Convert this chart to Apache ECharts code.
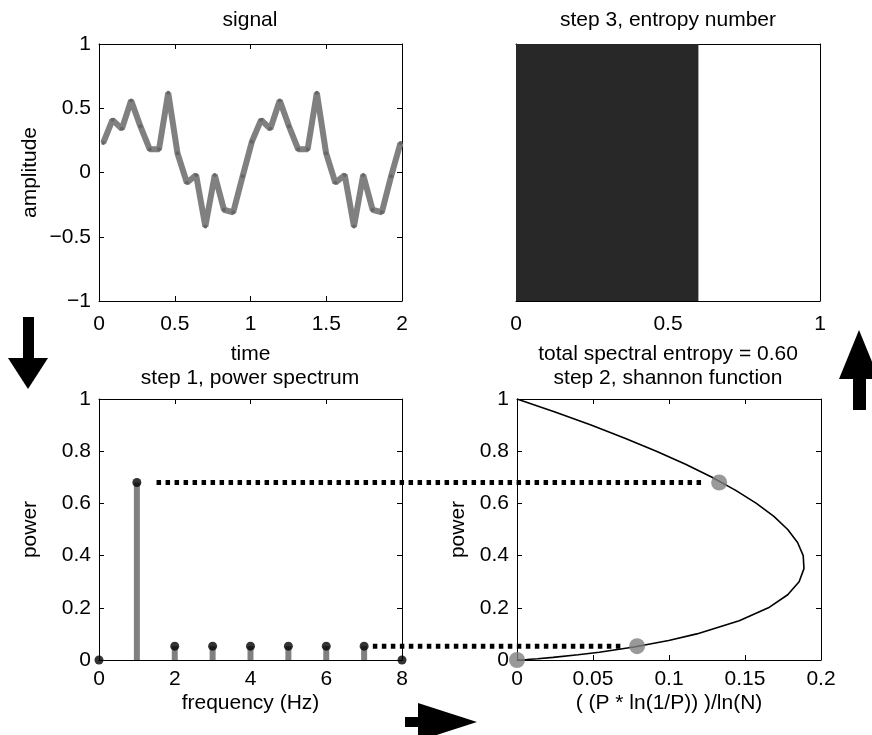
<!DOCTYPE html>
<html>
<head>
<meta charset="utf-8">
<script src="https://cdn.jsdelivr.net/npm/echarts@6/dist/echarts.min.js"></script>
<style>
  html, body { margin: 0; background: #fff; }
  #chart { width: 872px; height: 735px; }
</style>
</head>
<body>
<div id="chart"></div>
<script>
// signal (two periods)
const sigTime = [0.028, 0.089, 0.151, 0.212, 0.273, 0.335, 0.396, 0.457, 0.518, 0.58, 0.641, 0.702, 0.764, 0.825, 0.886, 0.948,
  1.009, 1.07, 1.131, 1.193, 1.254, 1.315, 1.377, 1.438, 1.499, 1.56, 1.622, 1.683, 1.744, 1.806, 1.867, 1.928, 1.99];
const sigAmp = [0.23, 0.41, 0.34, 0.56, 0.36, 0.18, 0.18, 0.62, 0.15, -0.08, -0.02, -0.42, -0.02, -0.29, -0.31, -0.03,
  0.24, 0.41, 0.34, 0.56, 0.36, 0.18, 0.18, 0.62, 0.15, -0.08, -0.02, -0.42, -0.02, -0.29, -0.31, -0.03, 0.23];

// step 1: power spectrum
const freqHz = [0, 1, 2, 3, 4, 5, 6, 7, 8];
const power = [0, 0.68, 0.053, 0.053, 0.053, 0.053, 0.053, 0.053, 0];

// step 2: shannon function curve
const shannonP = [0, 0.001, 0.002, 0.005, 0.01, 0.02, 0.03, 0.05, 0.075, 0.1, 0.15, 0.2, 0.25, 0.3, 0.35,
  0.4, 0.45, 0.5, 0.55, 0.6, 0.65, 0.7, 0.75, 0.8, 0.85, 0.9, 0.95, 1];
const shannonX = [0, 0.0035, 0.0064, 0.0136, 0.0237, 0.0402, 0.0541, 0.077, 0.0998, 0.1183, 0.1462, 0.1654, 0.1781, 0.1856, 0.1888,
  0.1883, 0.1846, 0.1781, 0.169, 0.1575, 0.1439, 0.1283, 0.1109, 0.0917, 0.071, 0.0487, 0.025, 0];
const pickedP = [0, 0.053, 0.68];
const pickedX = [0, 0.079, 0.133];

// step 3: entropy number
const entropy = [0.60];
const entropyCat = ['H'];

// dotted links: from spectrum (freq, power) to shannon (x, power)
const linkFrom = [[1.52, 0.68], [7.23, 0.053]];
const linkTo = [[0.123, 0.68], [0.07, 0.053]];

const font = 'Liberation Sans, Arial, sans-serif';
const txt = { color: '#000', fontSize: 21, fontFamily: font };
const fmt = v => String(v).replace('-', '\u2212');

function xPair(grid, min, max, step, name, gap, margin) {
  return [
    {
      type: 'value', gridIndex: grid, position: 'bottom', min: min, max: max, interval: step,
      axisLine: { show: true, onZero: false, lineStyle: { color: '#000' } },
      axisTick: { show: true, inside: true, length: 5, lineStyle: { color: '#000' } },
      axisLabel: Object.assign({ margin: margin, formatter: fmt }, txt),
      splitLine: { show: false },
      name: name, nameLocation: 'middle', nameGap: gap, nameTextStyle: txt
    },
    {
      type: 'value', gridIndex: grid, position: 'top', min: min, max: max, interval: step,
      axisLine: { show: true, onZero: false, lineStyle: { color: '#000' } },
      axisTick: { show: true, inside: true, length: 5, lineStyle: { color: '#000' } },
      axisLabel: { show: false }, splitLine: { show: false }
    }
  ];
}

function yPair(grid, min, max, step, name, gap) {
  return [
    {
      type: 'value', gridIndex: grid, position: 'left', min: min, max: max, interval: step,
      axisLine: { show: true, onZero: false, lineStyle: { color: '#000' } },
      axisTick: { show: true, inside: true, length: 5, lineStyle: { color: '#000' } },
      axisLabel: Object.assign({ margin: 8, formatter: fmt }, txt),
      splitLine: { show: false },
      name: name, nameLocation: 'middle', nameGap: gap, nameTextStyle: txt
    },
    {
      type: 'value', gridIndex: grid, position: 'right', min: min, max: max, interval: step,
      axisLine: { show: true, onZero: false, lineStyle: { color: '#000' } },
      axisTick: { show: true, inside: true, length: 5, lineStyle: { color: '#000' } },
      axisLabel: { show: false }, splitLine: { show: false }
    }
  ];
}

// top-right panel: category y for the single bar, plain right border
const entropyY = [
  {
    type: 'category', gridIndex: 1, position: 'left', data: entropyCat,
    axisLine: { show: true, lineStyle: { color: '#000' } },
    axisTick: { show: false }, axisLabel: { show: false }
  },
  {
    type: 'value', gridIndex: 1, position: 'right', min: 0, max: 1,
    axisLine: { show: true, onZero: false, lineStyle: { color: '#000' } },
    axisTick: { show: false }, axisLabel: { show: false }, splitLine: { show: false }
  }
];

const xAxes = [].concat(
  xPair(0, 0, 2, 0.5, 'time', 43, 13),
  xPair(1, 0, 1, 0.5, 'total spectral entropy = 0.60', 43, 13),
  xPair(2, 0, 8, 2, 'frequency (Hz)', 33, 9),
  xPair(3, 0, 0.2, 0.05, '( (P * ln(1/P)) )/ln(N)', 33, 9)
);
const yAxes = [].concat(
  yPair(0, -1, 1, 0.5, 'amplitude', 58),
  entropyY,
  yPair(2, 0, 1, 0.2, 'power', 58),
  yPair(3, 0, 1, 0.2, 'power', 48)
);

const titleText = (text, x, y) => ({
  type: 'text', x: x, y: y,
  style: { text: text, align: 'center', verticalAlign: 'middle', font: '21px ' + font, fill: '#000' }
});

const chart = echarts.init(document.getElementById('chart'));
chart.setOption({
  animation: false,
  backgroundColor: '#fff',
  grid: [
    { left: 99, top: 44, width: 303, height: 257 },
    { left: 516, top: 44, width: 304, height: 257 },
    { left: 99, top: 399, width: 303, height: 261 },
    { left: 517, top: 399, width: 304, height: 261 }
  ],
  xAxis: xAxes,
  yAxis: yAxes,
  series: [
    {
      type: 'line', xAxisIndex: 0, yAxisIndex: 0,
      data: sigTime.map((t, i) => [t, sigAmp[i]]),
      symbol: 'circle', symbolSize: 4, showSymbol: true,
      itemStyle: { color: '#666' },
      lineStyle: { color: '#808080', width: 6 }
    },
    {
      type: 'bar', xAxisIndex: 2, yAxisIndex: 2,
      data: entropy, barWidth: '100%',
      itemStyle: { color: '#282828' }
    },
    {
      type: 'custom', xAxisIndex: 4, yAxisIndex: 4,
      data: freqHz.map((f, i) => [f, power[i]]),
      renderItem: (params, api) => {
        const a = api.coord([api.value(0), 0]);
        const b = api.coord([api.value(0), api.value(1)]);
        return {
          type: 'line',
          shape: { x1: a[0], y1: a[1], x2: b[0], y2: b[1] },
          style: { stroke: '#808080', lineWidth: 6 }
        };
      }
    },
    {
      type: 'scatter', xAxisIndex: 4, yAxisIndex: 4,
      data: freqHz.map((f, i) => [f, power[i]]),
      symbolSize: 9, clip: false, z: 4,
      itemStyle: { color: '#000' }
    },
    {
      type: 'line', xAxisIndex: 6, yAxisIndex: 6,
      data: shannonX.map((x, i) => [x, shannonP[i]]),
      showSymbol: false, smooth: false,
      lineStyle: { color: '#000', width: 1.6 }
    },
    {
      type: 'scatter', xAxisIndex: 6, yAxisIndex: 6,
      data: pickedX.map((x, i) => [x, pickedP[i]]),
      symbolSize: 16, clip: false, z: 5,
      itemStyle: { color: '#808080' }
    }
  ]
});

// titles, dotted links and arrows
const links = linkFrom.map((p, i) => {
  const a = chart.convertToPixel({ xAxisIndex: 4, yAxisIndex: 4 }, p);
  const b = chart.convertToPixel({ xAxisIndex: 6, yAxisIndex: 6 }, linkTo[i]);
  return {
    type: 'line', z: 3,
    shape: { x1: a[0], y1: a[1], x2: b[0], y2: b[1] },
    style: { stroke: '#000', lineWidth: 5, lineDash: [4.5, 4.5] }
  };
});

const arrows = [
  { type: 'rect', shape: { x: 23, y: 317, width: 11, height: 42 }, style: { fill: '#000' } },
  { type: 'polygon', shape: { points: [[8, 358], [48, 358], [28, 389]] }, style: { fill: '#000' } },
  { type: 'rect', shape: { x: 405, y: 717, width: 14, height: 10 }, style: { fill: '#000' } },
  { type: 'polygon', shape: { points: [[418, 703], [418, 741], [477, 722]] }, style: { fill: '#000' } },
  { type: 'polygon', shape: { points: [[859, 330], [839, 379], [879, 379]] }, style: { fill: '#000' } },
  { type: 'rect', shape: { x: 853, y: 378, width: 13, height: 32 }, style: { fill: '#000' } }
];

chart.setOption({
  graphic: [
    titleText('signal', 250, 20),
    titleText('step 3, entropy number', 668, 20),
    titleText('step 1, power spectrum', 250, 378),
    titleText('step 2, shannon function', 668, 378)
  ].concat(links, arrows)
});
</script>
</body>
</html>
